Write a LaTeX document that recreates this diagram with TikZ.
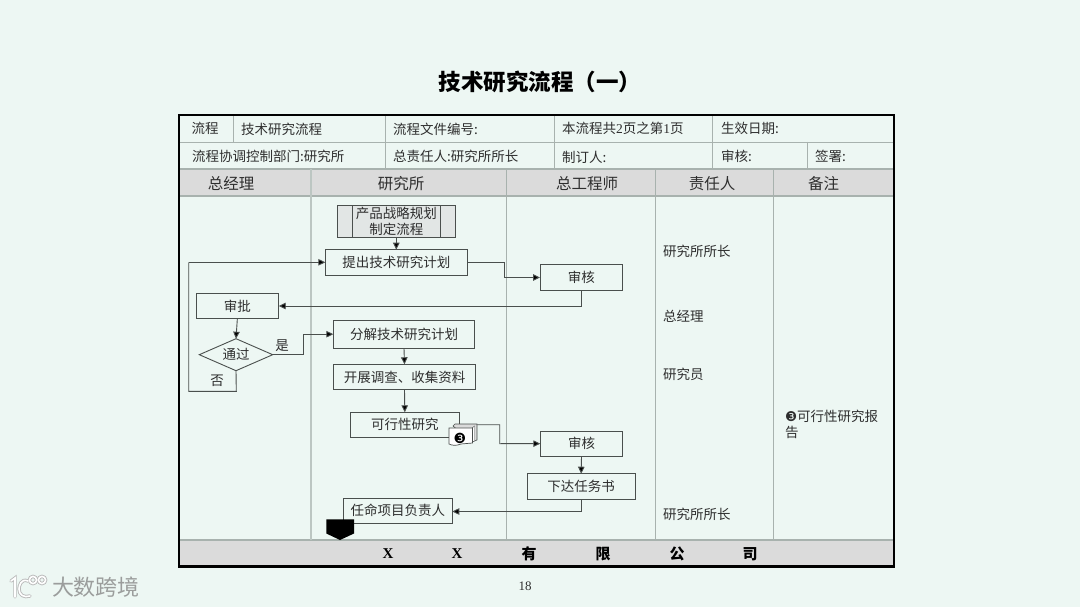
\documentclass[tikz,border=0pt]{standalone}
\usepackage{fontspec}
\setmainfont{Liberation Serif}
\newfontfamily\cjfont{Noto Sans CJK SC}
\newfontfamily\djfont{DejaVu Sans}
\usetikzlibrary{arrows.meta,shapes.geometric,calc}
\definecolor{bg}{HTML}{EDF7F3}
\definecolor{hdr}{HTML}{DBDBDB}
\definecolor{grid}{HTML}{A8B2AE}
\definecolor{gridsoft}{HTML}{BCC6C2}
\definecolor{ink}{HTML}{2E2E2E}
\definecolor{edge}{HTML}{4A4F4D}
\tikzset{
  txt/.style={inner sep=0pt,outer sep=0pt,text=ink,font=\cjfont\fontsize{13.5}{15}\selectfont},
  ltxt/.style={txt,anchor=west},
  head/.style={txt,font=\cjfont\fontsize{15.5}{17}\selectfont},
  foot/.style={txt,text=black,font=\bfseries\cjfont\fontsize{15}{17}\selectfont},
  gridline/.style={draw=grid,line width=0.9pt},
  boxn/.style={txt,draw=edge,line width=0.9pt,rectangle},
  wire/.style={draw=edge,line width=0.9pt},
  arr/.style={wire,-{Triangle[length=7pt,width=6.5pt,fill=black]}},
}
\newcommand{\bxnode}[7]{\node[boxn,#6,minimum width=#3pt-#2pt,minimum height=#5pt-#4pt] (#1) at ({(#2+#3)/2},{(#4+#5)/2}) {#7};}
\begin{document}
\begin{tikzpicture}[x=1pt,y=-1pt]
\useasboundingbox (0,0) rectangle (1080,607);
\fill[bg] (0,0) rectangle (1080,607);
% title
\node[txt,text=black,font=\bfseries\cjfont\fontsize{22.5}{24}\selectfont] (title) at (540,81.5) {技术研究流程（一）};
% bands
\fill[hdr] (179,169) rectangle (894,196);
\fill[hdr] (179,540) rectangle (894,566);
% grid
\draw[gridline] (179,142) -- (894,142);
\draw[gridline,line width=1.2pt] (179,169) -- (894,169);
\draw[gridline,line width=1.4pt] (179,196) -- (894,196);
\draw[gridline,line width=1.4pt] (179,540) -- (894,540);
\draw[gridline] (233,115) -- (233,142);
\draw[gridline] (385,115) -- (385,169);
\draw[gridline] (554,115) -- (554,169);
\draw[gridline] (712.5,115) -- (712.5,169);
\draw[gridline] (807,142) -- (807,169);
\draw[draw=gridsoft,line width=1.4pt] (311,169) -- (311,540);
\draw[gridline] (506,169) -- (506,540);
\draw[gridline] (655.5,169) -- (655.5,540);
\draw[gridline] (773,169) -- (773,540);
\draw[black,line width=2.4pt] (179,115) rectangle (894,566.5);
% table text
\node[txt] (t1) at (205,128.5) {流程};
\node[ltxt] (t2) at (241,129) {技术研究流程};
\node[ltxt] (t3) at (393,129) {流程文件编号:};
\node[ltxt] (t4) at (562,128.5) {本流程共{\rmfamily 2}页之第{\rmfamily 1}页};
\node[ltxt] (t5) at (721,128.5) {生效日期:};
\node[ltxt] (t6) at (192,156.5) {流程协调控制部门:研究所};
\node[ltxt] (t7) at (393,156.5) {总责任人:研究所所长};
\node[ltxt] (t8) at (562,157.5) {制订人:};
\node[ltxt] (t9) at (721,156) {审核:};
\node[ltxt] (t10) at (815,156) {签署:};
\node[head] (h1) at (231,183.5) {总经理};
\node[head] (h2) at (401,183.5) {研究所};
\node[head] (h3) at (587,183.5) {总工程师};
\node[head] (h4) at (712,183.5) {责任人};
\node[head] (h5) at (823.5,183.5) {备注};
% boxes
\node[boxn,fill=hdr!60!bg,align=center,minimum width=117.3pt,minimum height=31.7pt,font=\cjfont\fontsize{13.5}{15.5}\selectfont] (strat) at (396.3,221.3) {产品战略规划\\制定流程};
\draw[wire] (352.7,205.2) -- (352.7,236.8);
\draw[wire] (440,205.2) -- (440,236.8);
\bxnode{plan}{325.3}{467.3}{249.7}{275}{}{提出技术研究计划}
\bxnode{appr}{196}{278.7}{293.7}{318.7}{}{审批}
\node[txt,draw=edge,line width=0.9pt,diamond,aspect=2.29,minimum width=73.4pt,minimum height=32pt] (pass) at (236,354.7) {通过};
\bxnode{dec}{333.3}{474.7}{320}{348.3}{}{分解技术研究计划}
\bxnode{surv}{333.3}{475.7}{364.3}{389.7}{}{开展调查、收集资料}
\bxnode{feas}{350.3}{459.3}{412.3}{437.3}{}{可行性研究}
\bxnode{rev}{540}{622.7}{264.7}{290.3}{}{审核}
\bxnode{revb}{540.3}{622.7}{431}{456.3}{}{审核}
\bxnode{task}{527}{635.3}{473.7}{499.7}{}{下达任务书}
\bxnode{lead}{343.3}{452.3}{498.3}{523.3}{}{任命项目负责人}
% free labels
\node[txt] (yes) at (282,346) {是};
\node[txt] (no) at (217,381) {否};
\node[ltxt] (r1) at (663,251.5) {研究所所长};
\node[ltxt] (r2) at (663,316.5) {总经理};
\node[ltxt] (r3) at (663,374.5) {研究员};
\node[ltxt] (r4) at (663,514.5) {研究所所长};
\node[ltxt] (note1) at (785,416.5) {{\djfont ❸}可行性研究报};
\node[ltxt] (note2) at (785,432.5) {告};
% connectors
\coordinate (a1) at (504,262.3);
\coordinate (a2) at (504,277.5);
\coordinate (b1) at (581.5,306);
\coordinate (c1) at (236.3,391.3);
\coordinate (c2) at (188.7,391.3);
\coordinate (c3) at (188.7,262.3);
\coordinate (d1) at (303.3,354.7);
\coordinate (d2) at (303.3,334.2);
\coordinate (e0) at (459.3,424.7);
\coordinate (e1) at (499.7,424.7);
\coordinate (e2) at (499.7,443.7);
\coordinate (f1) at (581,511.5);
\coordinate (f0) at (581,499.7);
\draw[arr] (strat.south) -- (plan.north);
\draw[arr] (plan.east |- a1) -- (a1) -- (a2) -- (rev.west);
\draw[arr] (b1 |- rev.south) -- (b1) -- (appr.east |- b1);
\draw[arr] (appr.south) -- (pass.north);
\draw[wire] (pass.south) -- (c1) -- (c2) -- (c3);
\draw[arr] (c3) -- (plan.west |- c3);
\draw[arr] (pass.east) -- (d1) -- (d2) -- (dec.west |- d2);
\draw[arr] (dec.south) -- (surv.north);
\draw[arr] (surv.south) -- (feas.north);
\draw[arr] (e0) -- (e1) -- (e2) -- (revb.west);
\draw[arr] (revb.south) -- (task.north);
\draw[arr] (f0) -- (f1) -- (lead.east |- f1);
% document stack
\draw[edge,fill=hdr,line width=0.6pt] (453,426) -- (455,424) -- (477,424) -- (477,440) -- (472,442) -- cycle;
\draw[edge,fill=white,line width=0.4pt] (474.5,426) -- (474.5,441) -- (470,443) -- (455,443) -- cycle;
\draw[edge,fill=white,line width=0.7pt] (449,428) -- (472.5,428) -- (472.5,443) -- (461,444) .. controls (456,446) and (452,445.5) .. (449,444) -- cycle;
\node[txt,text=black,font=\djfont\fontsize{14}{15}\selectfont] (doc3) at (460,438.3) {❸};
% off-page connector
\fill[black] (326.3,519.3) -- (354,519.3) -- (354,533.5) -- (340,540) -- (326.3,533.5) -- cycle;
% footer
\node[foot] (f-a) at (388,554) {\rmfamily X};
\node[foot] (f-b) at (457,554) {\rmfamily X};
\node[foot] (f-c) at (529,554) {有};
\node[foot] (f-d) at (603,554) {限};
\node[foot] (f-e) at (677,554) {公};
\node[foot] (f-f) at (750,554) {司};
\node[txt,font=\rmfamily\fontsize{13}{15}\selectfont] (pg) at (525,586) {18};
% watermark
\begin{scope}[line cap=round]
\foreach \w/\c in {3.4/gray!55,1.6/white}{
  \draw[\c,line width=\w pt] (11,581) -- (15,578) -- (15,597);
  \draw[\c,line width=\w pt] (28,581) .. controls (21,578) and (19,586) .. (19,589) .. controls (19,595) and (24,598) .. (30,596);
  \draw[\c,line width=\w pt] (33,580) circle (3.6);
  \draw[\c,line width=\w pt] (42,580) circle (3.6);
}
\end{scope}
\node[txt,text=gray!75!bg,font=\cjfont\fontsize{22}{23}\selectfont] (wm) at (96,587) {大数跨境};
\end{tikzpicture}
\end{document}
